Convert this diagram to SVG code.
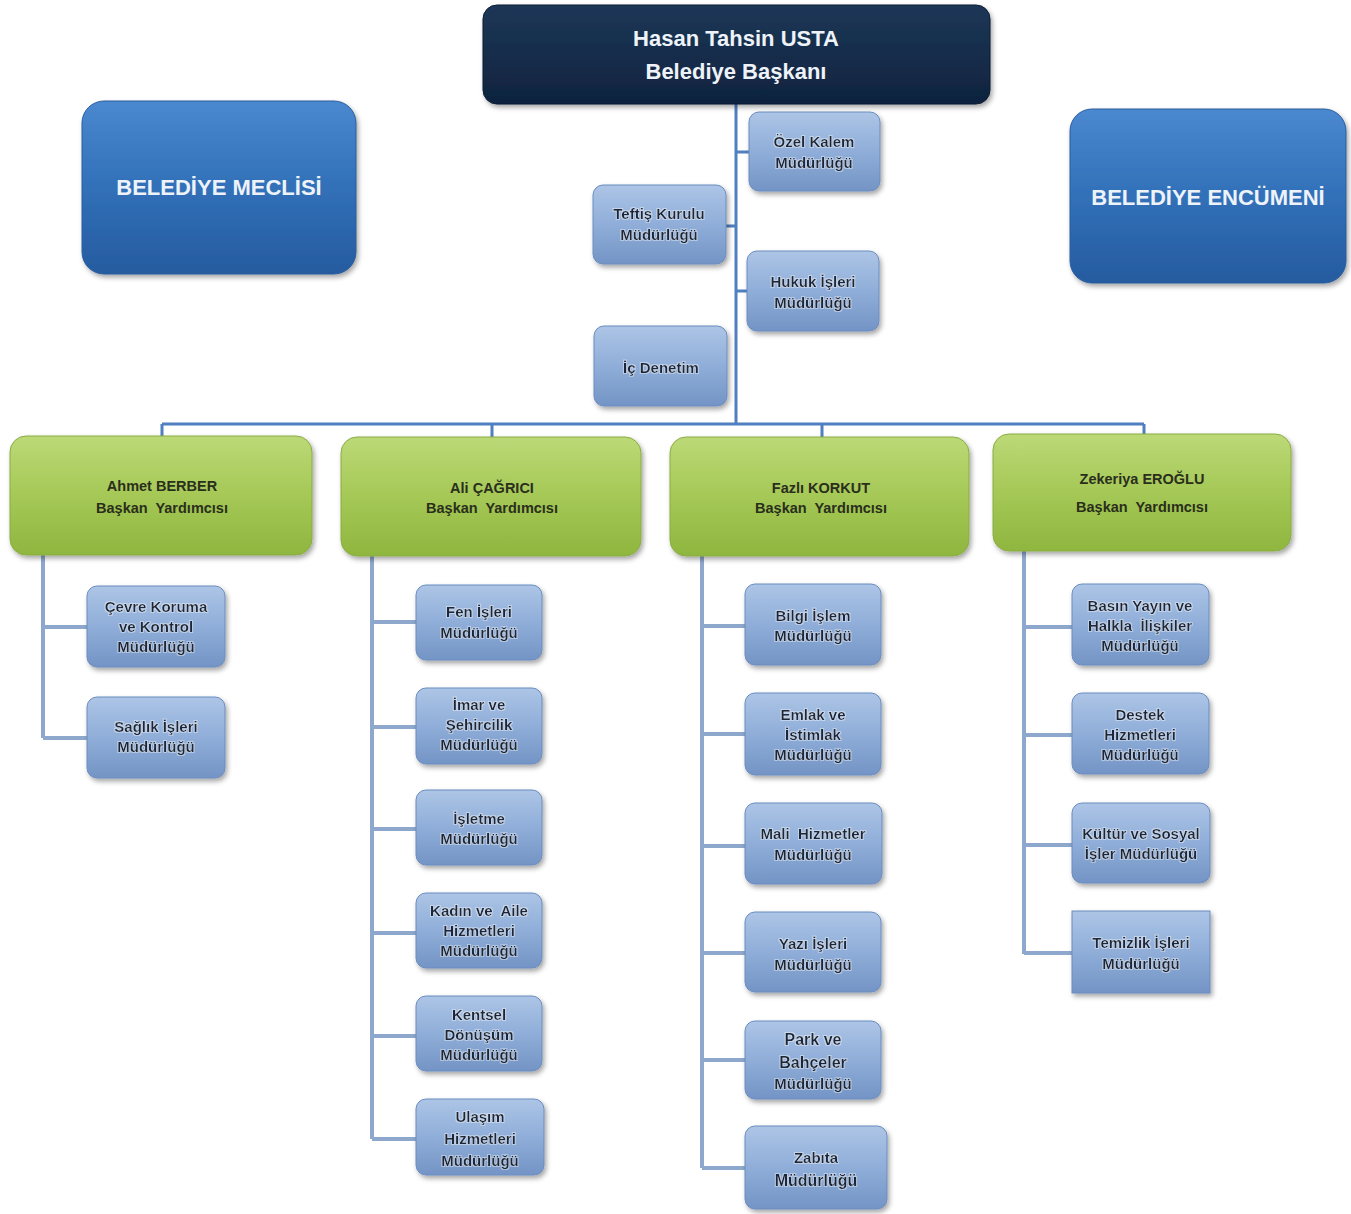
<svg xmlns="http://www.w3.org/2000/svg" width="1351" height="1214" viewBox="0 0 1351 1214">
<defs>
<linearGradient id="gBlue" x1="0" y1="0" x2="0" y2="1">
<stop offset="0" stop-color="#adc5e6"/><stop offset="0.45" stop-color="#92b0da"/><stop offset="1" stop-color="#7394c5"/>
</linearGradient>
<linearGradient id="gGreen" x1="0" y1="0" x2="0" y2="1">
<stop offset="0" stop-color="#bcd977"/><stop offset="0.5" stop-color="#a5c856"/><stop offset="1" stop-color="#8fb63f"/>
</linearGradient>
<linearGradient id="gDeep" x1="0" y1="0" x2="0" y2="1">
<stop offset="0" stop-color="#4a88cf"/><stop offset="0.5" stop-color="#3170b8"/><stop offset="1" stop-color="#265b9f"/>
</linearGradient>
<linearGradient id="gNavy" x1="0" y1="0" x2="0" y2="1">
<stop offset="0" stop-color="#1d3757"/><stop offset="1" stop-color="#0f233e"/>
</linearGradient>
<filter id="sh" x="-10%" y="-10%" width="125%" height="135%">
<feDropShadow dx="2" dy="3" stdDeviation="2.5" flood-color="#000" flood-opacity="0.35"/>
</filter>
<filter id="glow" x="-5%" y="-20%" width="110%" height="140%">
<feMorphology in="SourceAlpha" operator="dilate" radius="1" result="d"/>
<feFlood flood-color="#ffffff" flood-opacity="0.4"/>
<feComposite in2="d" operator="in" result="g"/>
<feMerge><feMergeNode in="g"/><feMergeNode in="SourceGraphic"/></feMerge>
</filter>
</defs>
<style>
.sb{fill:url(#gBlue);stroke:#6a8cbf;stroke-width:1;filter:url(#sh)}
.gb{fill:url(#gGreen);stroke:#8aac45;stroke-width:1;filter:url(#sh)}
.db{fill:url(#gDeep);stroke:#2a5c9c;stroke-width:1;filter:url(#sh)}
.nb{fill:url(#gNavy);stroke:#0c1d33;stroke-width:1;filter:url(#sh)}
.st{font-family:"Liberation Sans",Arial,sans-serif;font-weight:bold;font-size:15px;fill:#1a2739;text-anchor:middle;filter:url(#glow)}
.gt{font-family:"Liberation Sans",Arial,sans-serif;font-weight:bold;font-size:14.5px;fill:#2a2f1c;text-anchor:middle}
.wt{font-family:"Liberation Sans",Arial,sans-serif;font-weight:bold;font-size:22px;fill:#eef3fa;text-anchor:middle}
.main{stroke:#4f7fc0;stroke-width:3;fill:none}
.sub{stroke:#8ea7cc;stroke-width:4;fill:none}
</style>
<rect width="1351" height="1214" fill="#ffffff"/>

<g id="connectors">
<path class="main" d="M736 104V424M162 424H1144M162 424V437M492 424V438M822 424V438M1144 424V435M736 152H749M726 226H736M736 291H747"/>
<path class="sub" d="M43 555V738M43 627H87M43 738H87"/>
<path class="sub" d="M372 556V1139M372 622H416M372 727H416M372 829H416M372 933H416M372 1036H416M372 1139H416"/>
<path class="sub" d="M702 556V1168M702 626H745M702 734H745M702 846H745M702 953H745M702 1060H745M702 1168H745"/>
<path class="sub" d="M1024 551V954M1024 627H1072M1024 735H1072M1024 845H1072M1024 953H1072"/>
</g>

<g id="baskan">
<rect class="nb" x="483" y="5" width="507" height="99" rx="14"/>
<text class="wt" x="736" y="46">Hasan Tahsin USTA</text>
<text class="wt" x="736" y="79">Belediye Başkanı</text>
</g>
<g id="meclis">
<rect class="db" x="82" y="101" width="274" height="173" rx="22"/>
<text class="wt" x="219" y="195">BELEDİYE MECLİSİ</text>
</g>
<g id="encumen">
<rect class="db" x="1070" y="109" width="276" height="174" rx="22"/>
<text class="wt" x="1208" y="205">BELEDİYE ENCÜMENİ</text>
</g>

<g id="ozel-kalem">
<rect class="sb" x="749" y="112" width="131" height="79" rx="10"/>
<text class="st" x="814" y="147">Özel Kalem</text>
<text class="st" x="814" y="168">Müdürlüğü</text>
</g>
<g id="teftis">
<rect class="sb" x="593" y="185" width="133" height="79" rx="10"/>
<text class="st" x="659" y="219">Teftiş Kurulu</text>
<text class="st" x="659" y="240">Müdürlüğü</text>
</g>
<g id="hukuk">
<rect class="sb" x="747" y="251" width="132" height="80" rx="10"/>
<text class="st" x="813" y="287">Hukuk İşleri</text>
<text class="st" x="813" y="308">Müdürlüğü</text>
</g>
<g id="ic-denetim">
<rect class="sb" x="594" y="326" width="133" height="80" rx="10"/>
<text class="st" x="661" y="373">İç Denetim</text>
</g>

<g id="ahmet">
<rect class="gb" x="10" y="436" width="302" height="119" rx="16"/>
<text class="gt" x="162" y="491">Ahmet BERBER</text>
<text class="gt" x="162" y="513" xml:space="preserve">Başkan  Yardımcısı</text>
</g>
<g id="ali">
<rect class="gb" x="341" y="437" width="300" height="119" rx="16"/>
<text class="gt" x="492" y="493">Ali ÇAĞRICI</text>
<text class="gt" x="492" y="513" xml:space="preserve">Başkan  Yardımcısı</text>
</g>
<g id="fazli">
<rect class="gb" x="670" y="437" width="299" height="119" rx="16"/>
<text class="gt" x="821" y="493">Fazlı KORKUT</text>
<text class="gt" x="821" y="513" xml:space="preserve">Başkan  Yardımcısı</text>
</g>
<g id="zekeriya">
<rect class="gb" x="993" y="434" width="298" height="117" rx="16"/>
<text class="gt" x="1142" y="484">Zekeriya EROĞLU</text>
<text class="gt" x="1142" y="512" xml:space="preserve">Başkan  Yardımcısı</text>
</g>

<g id="cevre">
<rect class="sb" x="87" y="586" width="138" height="81" rx="10"/>
<text class="st" x="156" y="612">Çevre Koruma</text>
<text class="st" x="156" y="632">ve Kontrol</text>
<text class="st" x="156" y="652">Müdürlüğü</text>
</g>
<g id="saglik">
<rect class="sb" x="87" y="697" width="138" height="81" rx="10"/>
<text class="st" x="156" y="732">Sağlık İşleri</text>
<text class="st" x="156" y="752">Müdürlüğü</text>
</g>

<g id="fen">
<rect class="sb" x="416" y="585" width="126" height="75" rx="10"/>
<text class="st" x="479" y="617">Fen İşleri</text>
<text class="st" x="479" y="638">Müdürlüğü</text>
</g>
<g id="imar">
<rect class="sb" x="416" y="688" width="126" height="76" rx="10"/>
<text class="st" x="479" y="710">İmar ve</text>
<text class="st" x="479" y="730">Şehircilik</text>
<text class="st" x="479" y="750">Müdürlüğü</text>
</g>
<g id="isletme">
<rect class="sb" x="416" y="790" width="126" height="75" rx="10"/>
<text class="st" x="479" y="824">İşletme</text>
<text class="st" x="479" y="844">Müdürlüğü</text>
</g>
<g id="kadin">
<rect class="sb" x="416" y="893" width="126" height="75" rx="10"/>
<text class="st" x="479" y="916" xml:space="preserve">Kadın ve  Aile</text>
<text class="st" x="479" y="936">Hizmetleri</text>
<text class="st" x="479" y="956">Müdürlüğü</text>
</g>
<g id="kentsel">
<rect class="sb" x="416" y="996" width="126" height="75" rx="10"/>
<text class="st" x="479" y="1020">Kentsel</text>
<text class="st" x="479" y="1040">Dönüşüm</text>
<text class="st" x="479" y="1060">Müdürlüğü</text>
</g>
<g id="ulasim">
<rect class="sb" x="416" y="1099" width="128" height="76" rx="10"/>
<text class="st" x="480" y="1122">Ulaşım</text>
<text class="st" x="480" y="1144">Hizmetleri</text>
<text class="st" x="480" y="1166">Müdürlüğü</text>
</g>

<g id="bilgi">
<rect class="sb" x="745" y="584" width="136" height="81" rx="10"/>
<text class="st" x="813" y="621">Bilgi İşlem</text>
<text class="st" x="813" y="641">Müdürlüğü</text>
</g>
<g id="emlak">
<rect class="sb" x="745" y="693" width="136" height="82" rx="10"/>
<text class="st" x="813" y="720">Emlak ve</text>
<text class="st" x="813" y="740">İstimlak</text>
<text class="st" x="813" y="760">Müdürlüğü</text>
</g>
<g id="mali">
<rect class="sb" x="745" y="803" width="137" height="81" rx="10"/>
<text class="st" x="813" y="839" xml:space="preserve">Mali  Hizmetler</text>
<text class="st" x="813" y="860">Müdürlüğü</text>
</g>
<g id="yazi">
<rect class="sb" x="745" y="912" width="136" height="80" rx="10"/>
<text class="st" x="813" y="949">Yazı İşleri</text>
<text class="st" x="813" y="970">Müdürlüğü</text>
</g>
<g id="park">
<rect class="sb" x="745" y="1021" width="136" height="78" rx="10"/>
<text class="st" x="813" y="1045" style="font-size:16px">Park ve</text>
<text class="st" x="813" y="1068" style="font-size:16px">Bahçeler</text>
<text class="st" x="813" y="1089">Müdürlüğü</text>
</g>
<g id="zabita">
<rect class="sb" x="745" y="1126" width="142" height="83" rx="10"/>
<text class="st" x="816" y="1163">Zabıta</text>
<text class="st" x="816" y="1186" style="font-size:16px">Müdürlüğü</text>
</g>

<g id="basin">
<rect class="sb" x="1072" y="584" width="137" height="81" rx="10"/>
<text class="st" x="1140" y="611" xml:space="preserve">Basın Yayın ve</text>
<text class="st" x="1140" y="631" xml:space="preserve">Halkla  İlişkiler</text>
<text class="st" x="1140" y="651">Müdürlüğü</text>
</g>
<g id="destek">
<rect class="sb" x="1072" y="693" width="137" height="81" rx="10"/>
<text class="st" x="1140" y="720">Destek</text>
<text class="st" x="1140" y="740">Hizmetleri</text>
<text class="st" x="1140" y="760">Müdürlüğü</text>
</g>
<g id="kultur">
<rect class="sb" x="1072" y="803" width="138" height="80" rx="10"/>
<text class="st" x="1141" y="839">Kültür ve Sosyal</text>
<text class="st" x="1141" y="859">İşler Müdürlüğü</text>
</g>
<g id="temizlik">
<rect class="sb" x="1072" y="911" width="138" height="82" rx="0"/>
<text class="st" x="1141" y="948">Temizlik İşleri</text>
<text class="st" x="1141" y="969">Müdürlüğü</text>
</g>
</svg>
